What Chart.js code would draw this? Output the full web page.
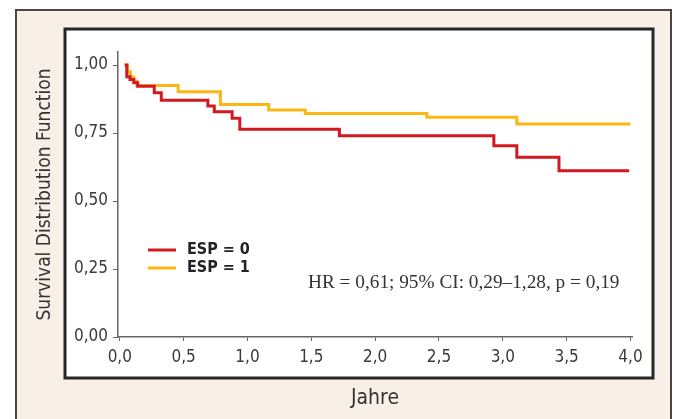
<!DOCTYPE html>
<html lang="de">
<head>
<meta charset="utf-8">
<title>Survival Distribution Function</title>
<script src="https://cdn.jsdelivr.net/npm/chart.js@4"></script>
<style>
    html, body { margin: 0; padding: 0; background: #ffffff; }
    #survivalChart { display: block; }
</style>
</head>
<body>
<canvas id="survivalChart" width="676" height="419"></canvas>
<script>
// Kaplan-Meier steps (Jahre / Überleben)
const esp0Times = [0.04, 0.055, 0.08, 0.11, 0.14, 0.27, 0.325, 0.69, 0.74, 0.88, 0.94, 1.72, 2.93, 3.11, 3.44, 3.99];
const esp0Surv  = [1.00, 0.957, 0.947, 0.935, 0.922, 0.898, 0.871, 0.849, 0.828, 0.804, 0.764, 0.740, 0.703, 0.661, 0.611, 0.611];

const esp1Times = [0.035, 0.06, 0.085, 0.11, 0.135, 0.457, 0.788, 1.166, 1.453, 2.405, 3.11, 4.0];
const esp1Surv  = [1.00, 0.975, 0.955, 0.94, 0.925, 0.902, 0.855, 0.835, 0.822, 0.808, 0.783, 0.783];

const seriesLabels = ['ESP = 0', 'ESP = 1'];
const seriesColors = ['#d2191f', '#fbb713'];

const xTicks = [0, 0.5, 1, 1.5, 2, 2.5, 3, 3.5, 4];
const yTicks = [0, 0.25, 0.5, 0.75, 1];

const statsText = 'HR = 0,61; 95% CI: 0,29\u20131,28, p = 0,19';

const NARROW = '"DejaVu Sans Condensed", sans-serif';
const TICK_FONT = { family: NARROW, size: 17 };

document.addEventListener('DOMContentLoaded', function() {
    initSurvivalChart();
});

/**
 * Build {x, y} points from two arrays
 */
function toPoints(times, values) {
    return times.map(function(t, i) {
        return { x: t, y: values[i] };
    });
}

/**
 * Beige frame + white plot box behind the chart
 */
const framePlugin = {
    id: 'frame',
    beforeDraw: function(chart) {
        const ctx = chart.ctx;
        ctx.save();
        ctx.fillStyle = '#ffffff';
        ctx.fillRect(0, 0, chart.width, chart.height);

        ctx.fillStyle = '#f8efe6';
        ctx.fillRect(16, 10, 655, 420);
        ctx.strokeStyle = '#4b4545';
        ctx.lineWidth = 2;
        ctx.strokeRect(16, 10, 655, 420);

        ctx.fillStyle = '#ffffff';
        ctx.fillRect(65, 29, 588, 349);
        ctx.strokeStyle = '#262626';
        ctx.lineWidth = 3;
        ctx.strokeRect(65, 29, 588, 349);
        ctx.restore();
    }
};

/**
 * Legend and HR annotation inside the plot area
 */
const notesPlugin = {
    id: 'notes',
    afterDraw: function(chart) {
        const ctx = chart.ctx;
        ctx.save();

        const rowY = [250, 268];
        seriesLabels.forEach(function(label, i) {
            ctx.strokeStyle = seriesColors[i];
            ctx.lineWidth = 3;
            ctx.beginPath();
            ctx.moveTo(148, rowY[i]);
            ctx.lineTo(176, rowY[i]);
            ctx.stroke();

            ctx.fillStyle = '#222222';
            ctx.font = 'bold 16px ' + NARROW;
            ctx.textBaseline = 'middle';
            ctx.textAlign = 'left';
            ctx.fillText(label, 187, rowY[i]);
        });

        ctx.fillStyle = '#333333';
        ctx.font = '19.3px "Liberation Serif", "DejaVu Serif", serif';
        ctx.textBaseline = 'middle';
        ctx.fillText(statsText, 308, 283);
        ctx.restore();
    }
};

/**
 * Survival chart
 */
function initSurvivalChart() {
    const ctx = document.getElementById('survivalChart');
    if (!ctx || typeof Chart === 'undefined') return;

    const comma = function(digits) {
        return function(value) {
            return Number(value).toFixed(digits).replace('.', ',');
        };
    };

    new Chart(ctx, {
        type: 'line',
        data: {
            datasets: [
                {
                    label: seriesLabels[0],
                    data: toPoints(esp0Times, esp0Surv),
                    borderColor: seriesColors[0],
                    borderWidth: 3,
                    stepped: 'before',
                    pointRadius: 0,
                    fill: false
                },
                {
                    label: seriesLabels[1],
                    data: toPoints(esp1Times, esp1Surv),
                    borderColor: seriesColors[1],
                    borderWidth: 3,
                    stepped: 'before',
                    pointRadius: 0,
                    fill: false
                }
            ]
        },
        options: {
            responsive: false,
            animation: false,
            devicePixelRatio: 1,
            layout: {
                padding: { left: 0, top: 52, right: 44, bottom: 0 }
            },
            plugins: {
                legend: { display: false },
                tooltip: { enabled: false }
            },
            scales: {
                x: {
                    type: 'linear',
                    min: -0.014,
                    max: 4.012,
                    afterBuildTicks: function(scale) {
                        scale.ticks = xTicks.map(function(v) { return { value: v }; });
                    },
                    afterFit: function(scale) {
                        scale.height = 82;
                    },
                    ticks: {
                        callback: comma(1),
                        font: TICK_FONT,
                        color: '#3a3a3a',
                        padding: 6,
                        maxRotation: 0
                    },
                    grid: {
                        drawOnChartArea: false,
                        drawTicks: true,
                        tickLength: 4,
                        color: '#666666'
                    },
                    border: { display: true, color: '#666666', width: 1.5 },
                    title: {
                        display: true,
                        text: 'Jahre',
                        font: { family: NARROW, size: 21 },
                        color: '#333333',
                        padding: { top: 0, bottom: 8 }
                    }
                },
                y: {
                    min: 0,
                    max: 1.048,
                    afterBuildTicks: function(scale) {
                        scale.ticks = yTicks.map(function(v) { return { value: v }; });
                    },
                    afterFit: function(scale) {
                        scale.width = 118;
                    },
                    ticks: {
                        callback: comma(2),
                        font: TICK_FONT,
                        color: '#3a3a3a',
                        padding: 5
                    },
                    grid: {
                        drawOnChartArea: false,
                        drawTicks: true,
                        tickLength: 5,
                        color: '#666666'
                    },
                    border: { display: true, color: '#666666', width: 1.5 },
                    title: {
                        display: true,
                        text: 'Survival Distribution Function',
                        font: { family: NARROW, size: 19 },
                        color: '#333333',
                        padding: { top: 34, bottom: 0 }
                    }
                }
            }
        },
        plugins: [framePlugin, notesPlugin]
    });
}
</script>
</body>
</html>
